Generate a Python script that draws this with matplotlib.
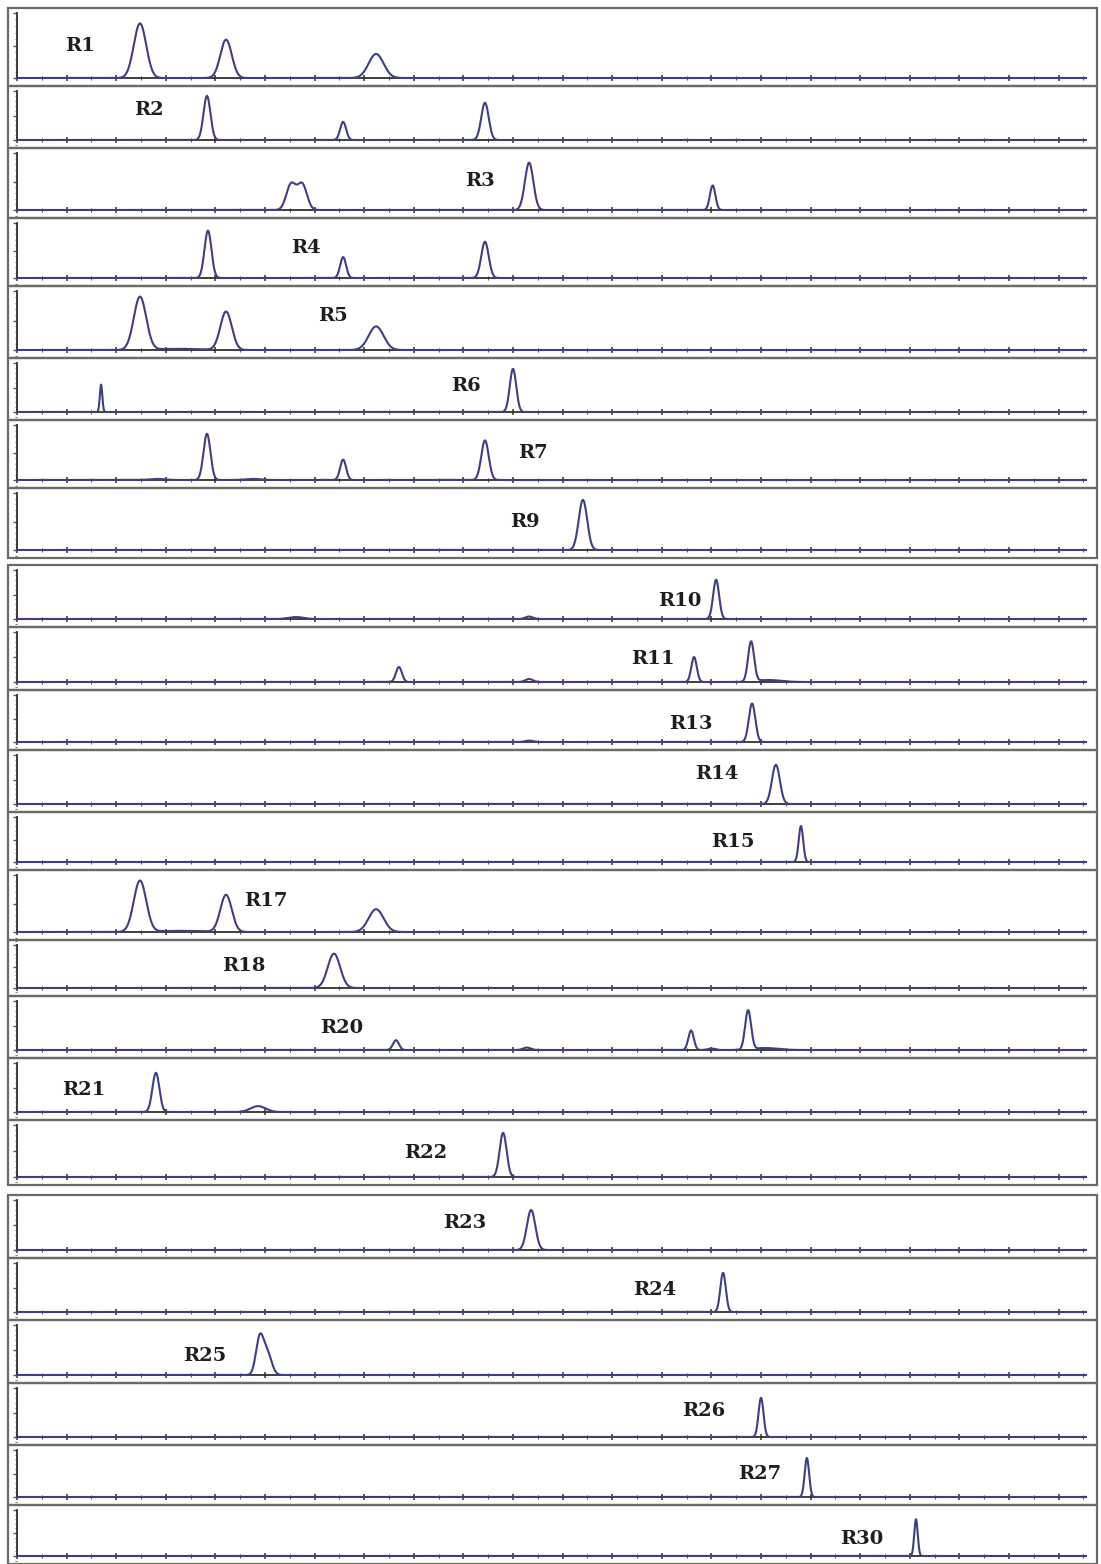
import numpy as np
import matplotlib
matplotlib.use("Agg")
import matplotlib.pyplot as plt
from matplotlib.patches import Rectangle
from matplotlib.ticker import MultipleLocator

# sample names, one per trace (top to bottom)
labels = ["R1", "R2", "R3", "R4", "R5", "R6", "R7", "R9", "R10", "R11", "R13", "R14",
          "R15", "R17", "R18", "R20", "R21", "R22", "R23", "R24", "R25", "R26", "R27", "R30"]

# peak tables: retention (axis units), relative height, width (sigma)
peak_rt = [
    [4.96, 8.43, 14.48],
    [7.66, 13.15, 18.87],
    [11.05, 11.5, 20.65, 28.05],
    [7.70, 13.15, 18.87],
    [4.96, 6.5, 8.43, 14.48],
    [3.39, 20.0],
    [5.65, 7.66, 9.52, 13.15, 18.87],
    [22.82],
    [11.25, 20.65, 28.19],
    [15.40, 20.65, 27.30, 29.60, 30.3],
    [20.65, 29.64],
    [30.60],
    [31.61],
    [4.96, 6.6, 8.43, 14.48],
    [12.78],
    [15.28, 20.56, 27.18, 28.0, 29.48, 30.2],
    [5.60, 9.72],
    [19.60],
    [20.73],
    [28.47],
    [9.78, 10.08],
    [30.00],
    [31.85],
    [36.25],
]
peak_height = [
    [0.84, 0.59, 0.37],
    [0.90, 0.37, 0.76],
    [0.45, 0.45, 0.83, 0.43],
    [0.86, 0.38, 0.66],
    [0.90, 0.02, 0.65, 0.40],
    [0.56, 0.88],
    [0.02, 0.84, 0.02, 0.37, 0.72],
    [0.88],
    [0.04, 0.05, 0.80],
    [0.30, 0.06, 0.50, 0.80, 0.04],
    [0.03, 0.82],
    [0.80],
    [0.80],
    [0.90, 0.02, 0.65, 0.40],
    [0.80],
    [0.20, 0.05, 0.40, 0.03, 0.80, 0.04],
    [0.80, 0.12],
    [0.85],
    [0.80],
    [0.80],
    [0.70, 0.45],
    [0.80],
    [0.83],
    [0.80],
]
peak_width = [
    [0.25, 0.23, 0.30],
    [0.14, 0.12, 0.15],
    [0.19, 0.19, 0.17, 0.11],
    [0.14, 0.12, 0.15],
    [0.25, 0.9, 0.23, 0.30],
    [0.05, 0.13],
    [0.3, 0.14, 0.3, 0.12, 0.15],
    [0.17],
    [0.3, 0.15, 0.12],
    [0.12, 0.15, 0.11, 0.12, 0.5],
    [0.15, 0.13],
    [0.16],
    [0.09],
    [0.25, 0.9, 0.23, 0.30],
    [0.25],
    [0.12, 0.15, 0.11, 0.15, 0.12, 0.5],
    [0.14, 0.3],
    [0.14],
    [0.17],
    [0.11],
    [0.15, 0.18],
    [0.10],
    [0.09],
    [0.07],
]

# layout: panel top/bottom in pixels, label centre (px x, px y)
W, H = 1101, 1564
panel_px = [(8, 86), (86, 148), (148, 218), (218, 286), (286, 358), (358, 420),
            (420, 488), (488, 558), (565, 627), (627, 690), (690, 750), (750, 812),
            (812, 870), (870, 940), (940, 996), (996, 1058), (1058, 1120), (1120, 1185),
            (1195, 1258), (1258, 1320), (1320, 1383), (1383, 1445), (1445, 1505), (1505, 1564)]
label_px = [(80, 46), (149, 110), (480, 181), (306, 248), (333, 316), (466, 386),
            (533, 453), (525, 522), (680, 601), (653, 659), (691, 724), (717, 774),
            (733, 842), (266, 901), (244, 966), (342, 1028), (84, 1090), (426, 1153),
            (465, 1223), (655, 1290), (205, 1356), (704, 1411), (760, 1474), (862, 1539)]

x0_px, unit_px = 17, 24.8
left_px, right_px = 8, 1097
x_end = 43.1
line_color = "#3d3f86"

fig = plt.figure(figsize=(W / 100, H / 100), dpi=100)
fig.patch.set_facecolor("white")

x = np.linspace(0, x_end, 4000)

for i, name in enumerate(labels):
    top, bot = panel_px[i]
    h = bot - top
    ax = fig.add_axes([left_px / W, 1 - bot / H, (right_px - left_px) / W, h / H])
    s = h - 8 - 5  # pixels per unit height
    ax.set_ylim(-8 / s, (h - 8) / s)
    ax.set_xlim((left_px - x0_px) / unit_px, (right_px - x0_px) / unit_px)

    y = np.zeros_like(x)
    for rt, ht, wd in zip(peak_rt[i], peak_height[i], peak_width[i]):
        y += ht * np.exp(-0.5 * ((x - rt) / wd) ** 2)
    ax.plot(x, y, color=line_color, lw=1.5, zorder=3)

    # axes styled like the instrument printout
    for side in ["top", "right"]:
        ax.spines[side].set_visible(False)
    ax.spines["bottom"].set_position(("data", 0))
    ax.spines["bottom"].set_bounds(0, x_end)
    ax.spines["left"].set_position(("data", 0))
    ax.spines["left"].set_bounds(0, 1.0)
    for side in ["bottom", "left"]:
        ax.spines[side].set_color("#2f2f2f")
        ax.spines[side].set_linewidth(1.3)
    ax.xaxis.set_major_locator(MultipleLocator(2))
    ax.xaxis.set_minor_locator(MultipleLocator(1))
    ax.yaxis.set_major_locator(MultipleLocator(0.5))
    ax.yaxis.set_minor_locator(MultipleLocator(0.1))
    ax.tick_params(axis="x", which="major", direction="inout", length=4.5, width=1.1,
                   color="#2f2f2f", labelbottom=False)
    ax.tick_params(axis="x", which="minor", direction="inout", length=2.5, width=0.8,
                   color="#555555")
    ax.tick_params(axis="y", which="major", direction="out", length=3, width=1,
                   color="#555555", labelleft=False)
    ax.tick_params(axis="y", which="minor", direction="out", length=1.5, width=0.8,
                   color="#777777")
    ax.set_facecolor("none")

    ax.add_patch(Rectangle((0, 0), 1, 1, transform=ax.transAxes, fill=False,
                           edgecolor="#6a6a6a", lw=1.6, clip_on=False, zorder=5))

    lx, ly = label_px[i]
    fig.text(lx / W, 1 - ly / H, name, ha="center", va="center",
             family="DejaVu Serif", weight="bold", fontsize=14, color="#1e1e1e")

fig.savefig("out.png", dpi=100, facecolor="white")
